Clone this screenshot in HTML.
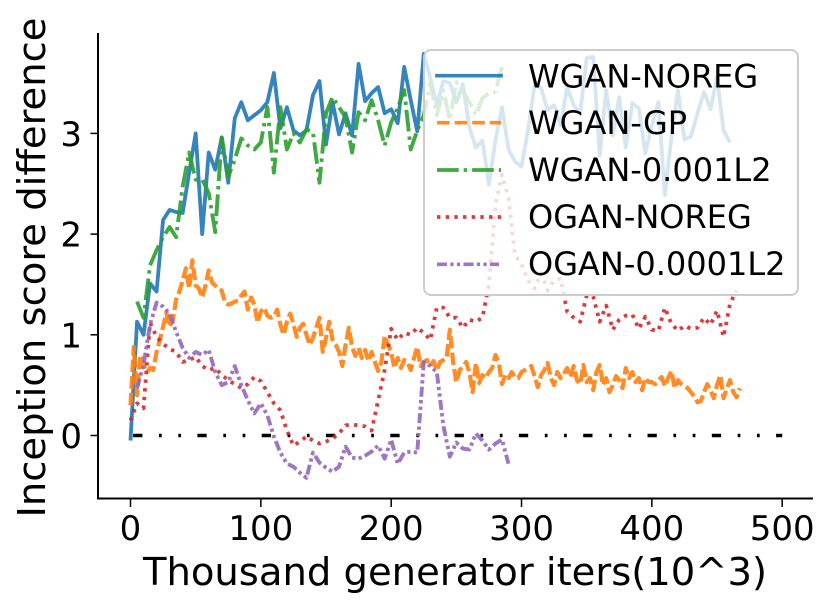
<!DOCTYPE html>
<html>
<head>
<meta charset="utf-8">
<title>Inception score difference chart</title>
<style>
html,body{margin:0;padding:0;background:#fff;width:830px;height:609px;overflow:hidden}
svg{display:block}
text{font-family:"DejaVu Sans","Liberation Sans",sans-serif;fill:#000}
</style>
</head>
<body>
<svg id="chart" width="830" height="609" viewBox="0 0 830 609" xmlns="http://www.w3.org/2000/svg">
  <g id="ticks"></g>
  <g id="series"></g>
  <line x1="98" y1="33" x2="98" y2="499" stroke="#000" stroke-width="2"/>
  <line x1="97" y1="498.5" x2="813" y2="498.5" stroke="#000" stroke-width="2"/>
  <text x="455" y="585" font-size="38.5" text-anchor="middle">Thousand generator iters(10^3)</text>
  <text transform="translate(45,267.5) rotate(-90)" font-size="38.5" text-anchor="middle">Inception score difference</text>
  <g>
    <rect x="424" y="50" width="374" height="245" rx="7" ry="7" fill="#fff" fill-opacity="0.8" stroke="#ccc" stroke-width="2"/>
    <g>
      <line x1="437" y1="75.7" x2="501" y2="75.7" stroke="#1f77b4" stroke-opacity="0.9" stroke-width="3.7" stroke-linecap="square"/>
      <text x="528" y="87.3" font-size="32">WGAN-NOREG</text>
    </g>
    <g>
      <line x1="437" y1="122.7" x2="501" y2="122.7" stroke="#ff7f0e" stroke-opacity="0.9" stroke-width="3.7" stroke-dasharray="12.6 5"/>
      <text x="528" y="134" font-size="32">WGAN-GP</text>
    </g>
    <g>
      <line x1="437" y1="170" x2="501" y2="170" stroke="#2ca02c" stroke-opacity="0.9" stroke-width="3.7" stroke-dasharray="21.7 5 3.4 5"/>
      <text x="528" y="181" font-size="32">WGAN-0.001L2</text>
    </g>
    <g>
      <line x1="437" y1="217" x2="501" y2="217" stroke="#d62728" stroke-opacity="0.9" stroke-width="3.7" stroke-dasharray="3.4 5.27"/>
      <text x="528" y="228" font-size="32">OGAN-NOREG</text>
    </g>
    <g>
      <line x1="437" y1="264.3" x2="499" y2="264.3" stroke="#9467bd" stroke-opacity="0.9" stroke-width="3.7" stroke-dasharray="10 3.3 3.3 3.3 3.3 3.3"/>
      <text x="528" y="275" font-size="32">OGAN-0.0001L2</text>
    </g>
  </g>
</svg>
<script>
var xTickValues = [0, 100, 200, 300, 400, 500];
var yTickValues = [0, 1, 2, 3];

var coarseStep = 5;
var fineStep = 2.5;

var wganNoreg = [-0.05,1.13,1.00,1.51,1.43,2.14,2.24,2.22,2.21,2.61,3.00,2.00,2.81,2.64,2.96,2.51,3.15,3.31,3.13,3.18,3.23,3.31,3.60,3.05,3.26,3.03,2.98,3.03,3.38,3.52,2.89,3.31,2.99,3.20,2.98,3.69,3.32,3.40,3.46,3.20,3.24,3.10,3.66,3.33,3.02,3.79,3.55,3.28,3.52,3.50,3.31,3.49,3.06,2.86,2.93,2.49,2.93,3.26,2.84,2.72,2.67,3.03,3.48,3.45,3.23,3.28,3.08,3.46,3.28,3.20,3.75,3.76,2.78,3.43,2.98,3.36,2.86,3.30,3.25,2.80,3.08,3.31,2.39,2.96,3.43,2.94,2.97,3.20,3.41,3.24,3.56,3.03,2.91];

var wganGp = [0.30,0.88,0.40,0.80,0.70,0.63,0.67,0.65,0.83,0.95,1.08,1.22,1.08,1.15,1.35,1.43,1.54,1.66,1.46,1.74,1.49,1.46,1.37,1.49,1.64,1.52,1.49,1.46,1.44,1.32,1.30,1.31,1.33,1.34,1.39,1.43,1.25,1.37,1.30,1.12,1.23,1.27,1.19,1.17,1.18,1.25,1.10,1.00,1.13,1.21,1.11,0.98,1.07,1.11,1.00,0.90,0.97,1.07,1.17,0.83,0.97,1.13,0.95,0.90,0.83,0.69,0.90,1.07,0.88,0.79,0.87,0.77,0.85,0.74,0.83,0.73,0.64,0.73,0.99,0.90,0.83,0.67,0.77,0.67,0.75,0.73,0.65,0.77,0.88,0.69,0.73,0.75,0.69,0.74,0.65,0.73,0.75,0.77,1.05,0.73,0.53,0.65,0.68,0.73,0.63,0.43,0.72,0.52,0.60,0.57,0.63,0.67,0.80,0.73,0.51,0.60,0.57,0.63,0.58,0.57,0.63,0.65,0.67,0.69,0.59,0.48,0.60,0.65,0.72,0.57,0.50,0.63,0.57,0.61,0.67,0.58,0.69,0.55,0.51,0.70,0.53,0.57,0.45,0.63,0.70,0.50,0.57,0.43,0.50,0.59,0.55,0.47,0.67,0.57,0.63,0.53,0.57,0.45,0.57,0.53,0.53,0.51,0.55,0.58,0.49,0.57,0.64,0.47,0.55,0.51,0.49,0.47,0.43,0.39,0.33,0.34,0.43,0.51,0.45,0.37,0.50,0.60,0.37,0.47,0.55,0.43,0.38,0.47];

var wganL2 = [1.33,1.17,1.69,1.84,1.97,2.07,1.97,2.47,2.81,2.54,2.54,2.41,2.02,2.96,2.57,2.74,2.95,2.88,2.84,2.91,3.26,2.61,3.26,2.84,3.00,2.91,3.04,3.01,2.51,3.20,3.36,3.26,3.16,2.81,3.21,3.13,3.33,3.13,2.88,3.11,3.25,3.43,2.84,3.03,3.18,3.50,3.18,3.43,3.13,3.51,3.41,3.31,3.18,3.35,3.40,3.41,3.66];

var oganNoreg = [0.15,0.32,0.27,1.12,0.98,0.91,0.86,0.83,0.73,0.75,0.78,0.69,0.65,0.67,0.60,0.55,0.51,0.47,0.51,0.58,0.54,0.43,0.32,0.25,0.05,-0.10,-0.06,-0.01,-0.05,-0.08,-0.06,-0.03,0.02,0.10,0.11,0.10,0.09,0.05,0.35,0.65,1.06,0.95,1.02,1.00,1.07,1.02,0.95,1.27,1.27,1.17,1.17,1.07,1.15,1.13,1.17,1.50,2.29,2.59,2.36,1.79,1.70,1.54,1.46,1.61,1.44,1.54,1.56,1.23,1.17,1.13,1.39,1.38,1.13,1.29,1.05,1.15,1.19,1.20,1.06,1.18,1.05,1.04,1.27,1.11,1.04,1.09,1.06,1.07,1.17,1.10,1.24,0.98,1.31,1.44];

var oganL2 = [0.47,0.70,1.10,1.32,1.28,1.21,1.03,0.87,0.77,0.83,0.80,0.85,0.63,0.50,0.53,0.69,0.50,0.35,0.22,0.32,0.20,-0.01,-0.17,-0.28,-0.31,-0.37,-0.42,-0.17,-0.27,-0.32,-0.36,-0.31,-0.11,-0.22,-0.23,-0.20,-0.16,-0.10,-0.23,-0.04,-0.28,-0.17,-0.16,-0.17,0.73,0.69,0.63,0.10,-0.21,-0.07,-0.13,-0.14,0.02,-0.05,-0.14,-0.08,-0.04,-0.28];

var baselineIters = [2, 500];
var baselineValues = [0, 0];

function xAxis(v) { return 130.5 + v * 1.3034; }
function yAxis(v) { return 435.5 - v * 100.7; }

var svgNS = 'http://www.w3.org/2000/svg';
var ticksGroup = document.getElementById('ticks');
var seriesGroup = document.getElementById('series');

xTickValues.forEach(function (v) {
  var t = document.createElementNS(svgNS, 'line');
  
  
  t.setAttribute('x1', xAxis(v));
  t.setAttribute('x2', xAxis(v));
  t.setAttribute('y1', 499);
  t.setAttribute('y2', 507);
  t.setAttribute('stroke', '#000');
  t.setAttribute('stroke-width', '1.5');
  ticksGroup.appendChild(t);
  var l = document.createElementNS(svgNS, 'text');
  
  
  l.setAttribute('x', xAxis(v));
  l.setAttribute('y', 540);
  l.setAttribute('font-size', '34');
  l.setAttribute('text-anchor', 'middle');
  l.textContent = String(v);
  ticksGroup.appendChild(l);
});

yTickValues.forEach(function (v) {
  var t = document.createElementNS(svgNS, 'line');
  
  
  t.setAttribute('x1', 90.5);
  t.setAttribute('x2', 98);
  t.setAttribute('y1', yAxis(v));
  t.setAttribute('y2', yAxis(v));
  t.setAttribute('stroke', '#000');
  t.setAttribute('stroke-width', '1.5');
  ticksGroup.appendChild(t);
  var l = document.createElementNS(svgNS, 'text');
  
  
  l.setAttribute('x', 82);
  l.setAttribute('y', yAxis(v) + 12.5);
  l.setAttribute('font-size', '34');
  l.setAttribute('text-anchor', 'end');
  l.textContent = String(v);
  ticksGroup.appendChild(l);
});

function pathFrom(values, start, step) {
  return values.map(function (v, i) {
    return (i ? 'L' : 'M') + xAxis(start + i * step).toFixed(2) + ' ' + yAxis(v).toFixed(2);
  }).join(' ');
}

function styleLine(p, color, dash, width, opacity) {
  p.setAttribute('fill', 'none');
  p.setAttribute('stroke', color);
  p.setAttribute('stroke-width', width);
  p.setAttribute('stroke-opacity', opacity);
  p.setAttribute('stroke-linejoin', 'round');
  if (dash) { p.setAttribute('stroke-dasharray', dash); }
  seriesGroup.appendChild(p);
}

var baseLine = document.createElementNS(svgNS, 'path');


baseLine.setAttribute('d', 'M' + xAxis(baselineIters[0]) + ' ' + yAxis(baselineValues[0]) + ' L' + xAxis(baselineIters[1]) + ' ' + yAxis(baselineValues[1]));
styleLine(baseLine, '#000', '9.3 16.6 2.7 16.6 2.7 16.4', 3.5, 1);

var blueLine = document.createElementNS(svgNS, 'path');


blueLine.setAttribute('d', pathFrom(wganNoreg, 0, coarseStep));
styleLine(blueLine, '#1f77b4', '', 3.8, 0.9);

var orangeLine = document.createElementNS(svgNS, 'path');


orangeLine.setAttribute('d', pathFrom(wganGp, 0, fineStep));
styleLine(orangeLine, '#ff7f0e', '12.6 4', 4.2, 0.9);

var greenLine = document.createElementNS(svgNS, 'path');


greenLine.setAttribute('d', pathFrom(wganL2, coarseStep, coarseStep));
styleLine(greenLine, '#2ca02c', '21.7 5 3.4 5', 3.9, 0.9);

var redLine = document.createElementNS(svgNS, 'path');


redLine.setAttribute('d', pathFrom(oganNoreg, 0, coarseStep));
styleLine(redLine, '#d62728', '3.4 5.27', 3.8, 0.9);

var purpleLine = document.createElementNS(svgNS, 'path');


purpleLine.setAttribute('d', pathFrom(oganL2, coarseStep, coarseStep));
styleLine(purpleLine, '#9467bd', '10 3.3 3.3 3.3 3.3 3.3', 3.9, 0.9);
</script>
</body>
</html>
